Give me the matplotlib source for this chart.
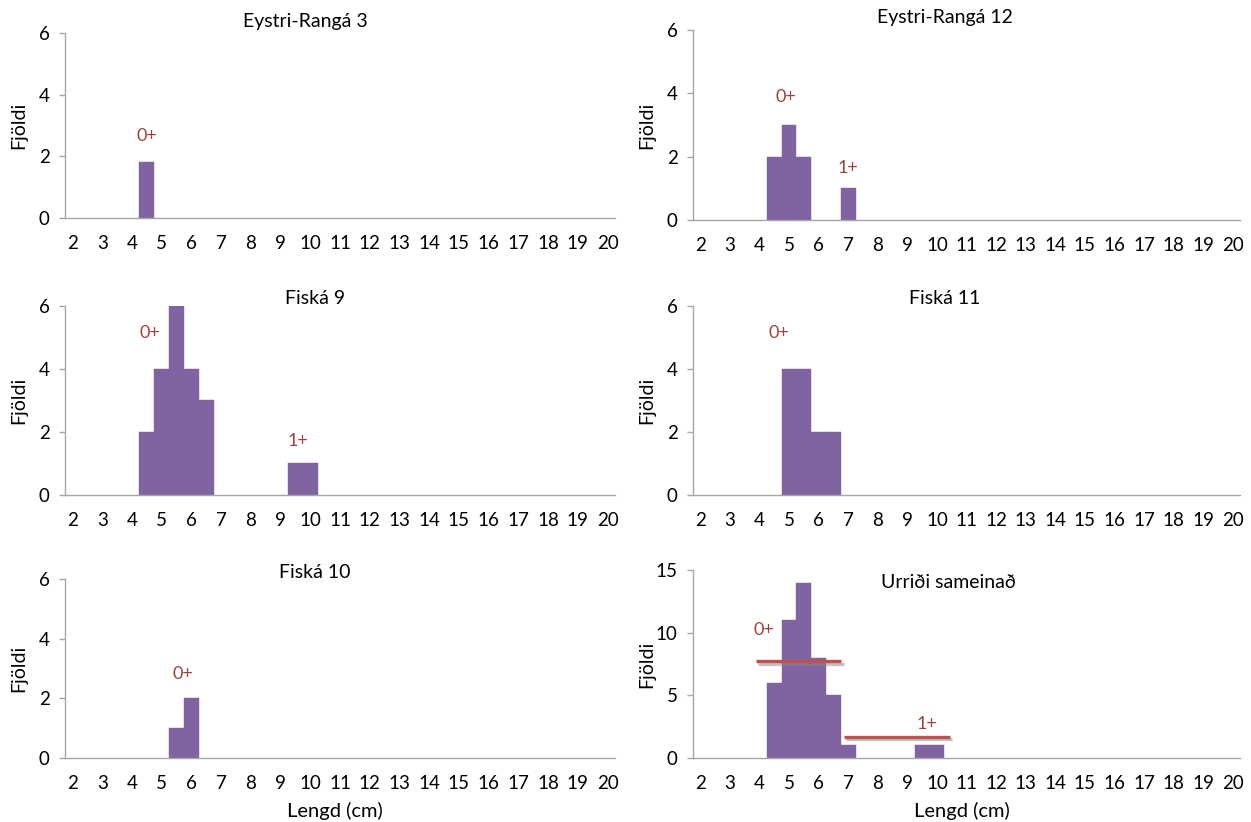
import matplotlib
matplotlib.use("Agg")
import matplotlib.pyplot as plt
import matplotlib.patheffects as pe

plt.rcParams['font.family'] = ['Lato', 'DejaVu Sans']

W, H = 1251, 822

# ---- data ----
titles = ["Eystri-Rangá 3", "Eystri-Rangá 12", "Fiská 9", "Fiská 11", "Fiská 10", "Urriði sameinað"]

er3_len = [4.5]
er3_cnt = [1.8]

er12_len = [4.5, 5.0, 5.5, 7.0]
er12_cnt = [2, 3, 2, 1]

f9_len = [4.5, 5.0, 5.5, 6.0, 6.5, 9.5, 10.0]
f9_cnt = [2, 4, 6, 4, 3, 1, 1]

f11_len = [5.0, 5.5, 6.0, 6.5]
f11_cnt = [4, 4, 2, 2]

f10_len = [5.5, 6.0]
f10_cnt = [1, 2]

all_len = [4.5, 5.0, 5.5, 6.0, 6.5, 7.0, 9.5, 10.0]
all_cnt = [6, 11, 14, 8, 5, 1, 1, 1]

x_ticks = list(range(2, 21))

# age group labels (text, x, y) per panel
age_labels = [
    [("0+", 4.5, 2.65)],
    [("0+", 4.9, 3.9), ("1+", 7.0, 1.65)],
    [("0+", 4.6, 5.15), ("1+", 9.6, 1.7)],
    [("0+", 4.65, 5.15)],
    [("0+", 5.7, 2.8)],
    [("0+", 4.15, 10.25), ("1+", 9.65, 2.7)],
]
# age group separator lines in combined panel: (x0, x1, y)
group_lines = [(3.88, 6.77, 7.7), (6.87, 10.43, 1.65)]

series = [(er3_len, er3_cnt), (er12_len, er12_cnt), (f9_len, f9_cnt),
          (f11_len, f11_cnt), (f10_len, f10_cnt), (all_len, all_cnt)]

# ---- layout (pixels: left, right, top, bottom) ----
boxes = [(65, 615, 33, 218), (693, 1240, 30, 220),
         (65, 615, 306, 495), (693, 1240, 306, 495),
         (65, 615, 579, 758), (693, 1240, 570, 758)]
title_pos = [(305, 22), (945, 18), (315, 298), (945, 298), (315, 572), (948, 582)]
ylab_x = [19, 647, 19, 647, 19, 647]

purple = "#8064A2"
red_txt = "#A0403E"
red_line = "#C0504D"
grey = "#A6A6A6"

fig = plt.figure(figsize=(W / 100, H / 100), dpi=100)

for i, (l, r, t, b) in enumerate(boxes):
    ax = fig.add_axes([l / W, 1 - b / H, (r - l) / W, (b - t) / H])
    xs, ys = series[i]
    ax.bar(xs, ys, width=0.5, color=purple, edgecolor=purple, linewidth=0.3, zorder=2)
    ax.set_xlim(1.75, 20.25)
    if i == 5:
        ax.set_ylim(0, 15)
        ax.set_yticks([0, 5, 10, 15])
    else:
        ax.set_ylim(0, 6)
        ax.set_yticks([0, 2, 4, 6])
    ax.set_xticks(x_ticks)
    ax.set_xticklabels([str(v) for v in x_ticks])
    for s in ["top", "right"]:
        ax.spines[s].set_visible(False)
    for s in ["left", "bottom"]:
        ax.spines[s].set_color(grey)
        ax.spines[s].set_linewidth(1.0)
    ax.tick_params(axis='x', length=0, pad=12, labelsize=13.5, colors="black")
    ax.tick_params(axis='y', length=4, width=1, color=grey, pad=7, labelsize=13.5, labelcolor="black")
    ax.set_facecolor("none")
    for txt, tx, ty in age_labels[i]:
        ax.text(tx, ty, txt, color=red_txt, fontsize=13, ha="center", va="center")
    if i == 5:
        for x0, x1, yv in group_lines:
            ax.plot([x0, x1], [yv, yv], color=red_line, linewidth=2.4, solid_capstyle="butt",
                    zorder=4, clip_on=False,
                    path_effects=[pe.SimpleLineShadow(offset=(1.5, -1.5), shadow_color="#888888", alpha=0.5),
                                  pe.Normal()])
    fig.text(ylab_x[i] / W, 1 - ((t + b) / 2) / H, "Fjöldi", rotation=90,
             ha="center", va="center", fontsize=14)
    tx, ty = title_pos[i]
    fig.text(tx / W, 1 - ty / H, titles[i], ha="center", va="center", fontsize=14)
    if i >= 4:
        fig.text(((l + r) / 2 - 5) / W, 1 - 811 / H, "Lengd (cm)", ha="center", va="center", fontsize=14.5)

fig.savefig("out.png", dpi=100, facecolor="white")
